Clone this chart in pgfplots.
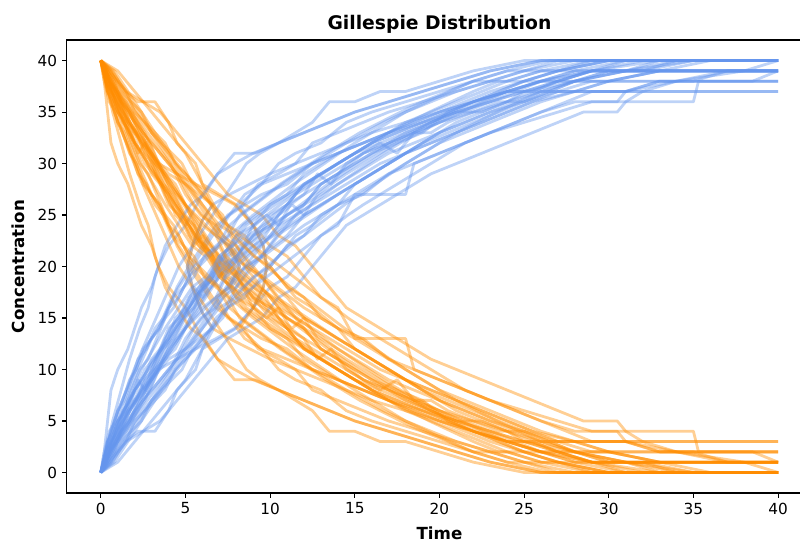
\documentclass[border=0pt]{standalone}
\usepackage{pgfplots}
\usepackage{pgfplotstable}
\pgfplotsset{compat=1.18}
\usepackage{fontspec}
\setmainfont{DejaVu Sans}
\definecolor{cblue}{RGB}{100,149,237}
\definecolor{dorange}{RGB}{255,140,0}
\pgfplotsset{
 ob/.style={color=dorange, draw opacity=0.42, line width=2pt, line join=round, no markers},
 bl/.style={color=cblue, draw opacity=0.42, line width=2pt, line join=round, no markers},
}
% each trajectory: t, orange (a), blue (b)
\pgfplotstableread{
t a b
0 40 0
0.2 38 2
0.4 35 5
0.6 32 8
1.0 30 10
1.6 28 12
2.0 26 14
2.4 24 16
3.0 22 18
3.4 20 20
4.0 18 22
5.0 16 24
6.0 13 27
6.9 11 29
7.9 9 31
9.1 9 31
10.5 8 32
12 7 33
13.5 6 34
15 5 35
17 4 36
19 3 37
21 2 38
23 1 39
26 0 40
40 0 40
}\trA
\pgfplotstableread{
t a b
0 40 0
0.5 39 1
1.4 37 3
2.2 36 4
3.2 36 4
4.0 34 6
4.5 32 8
5.6 30 10
6.0 28 12
7.0 27 13
8.0 26 14
9.0 24 16
10.0 22 18
11.0 21 19
12.0 19 21
13.0 17 23
14.0 16 24
15.0 13 27
18.0 13 27
18.5 10 30
20 9 31
21.5 8 32
23 7 33
24.5 6 34
26 5 35
28 4 36
30.5 4 36
31 3 37
33 2 38
40 2 38
}\trB
\pgfplotstableread{
t a b
0 40 0
0.8 38 2
1.6 36 4
2.5 34 6
3.5 32 8
4.5 30 10
5.5 28 12
6.5 26 14
7.5 24 16
8.5 23 17
9.5 21 19
10.5 19 21
11.5 17 23
12.5 16 24
14 14 26
15.5 13 27
17 11 29
18.5 10 30
20 9 31
21.5 8 32
23 7 33
25 6 34
27 5 35
29 4 36
35 4 36
35.3 2 38
38.5 2 38
40 1 39
}\trC
\pgfplotstableread{
t a b
0 40 0
0.4 39 1
1 37 3
2 34 6
3 31 9
4 28 12
5 25 15
6 23 17
7 21 19
8 19 21
9 17 23
10 16 24
11 14 26
12 13 27
13 12 28
14 11 29
15.5 9 31
17 8 32
18.5 7 33
20 6 34
22 5 35
24 4 36
26 3 37
28 2 38
31 1 39
34 0 40
40 0 40
}\trD
\pgfplotstableread{
t a b
0 40 0
0.3 38 2
0.8 36 4
1.5 33 7
2.2 30 10
3 27 13
3.8 25 15
4.5 22 18
5.2 20 20
6 18 22
6.8 16 24
7.6 15 25
8.5 13 27
9.5 12 28
10.5 10 30
11.5 9 31
13 8 32
14.5 6 34
16 5 35
18 4 36
20 3 37
22 2 38
24 1 39
27 1 39
30 0 40
40 0 40
}\trE
\pgfplotstableread{
t a b
0 40 0
0.6 38 2
1.2 36 4
2 33 7
2.8 31 9
3.6 29 11
4.4 26 14
5.2 24 16
6 22 18
6.8 21 19
7.6 19 21
8.5 18 22
9.3 17 23
10.2 15 25
11 14 26
12 12 28
13 11 29
14 10 30
15 9 31
16.5 8 32
18 7 33
19.5 6 34
21 5 35
23 4 36
25 3 37
27 2 38
30 2 38
33 1 39
40 1 39
}\trF
\pgfplotstableread{
t a b
0 40 0
0.5 38 2
1.2 36 4
2 34 6
3 31 9
4 29 11
5 28 12
5.8 27 13
6.6 26 14
6.0 24.5 15.5
5.5 22.5 17.5
5.1 20 20
5.5 17.5 22.5
6.0 15.5 24.5
6.6 14 26
7.6 13 27
8.8 12 28
10 11 29
11.5 10 30
13 9 31
14.5 8 32
16 7 33
18 6 34
20 5 35
22 4 36
24 3 37
26 2 38
29 1 39
32 0 40
40 0 40
}\trG
\pgfplotstableread{
t a b
0 40 0
0.6 38 2
1.4 35 5
2.4 32 8
3.4 30 10
4.5 29 11
5.6 28 12
6.8 27 13
7.9 26 14
9.0 24 16
9.6 22 18
9.8 20 20
9.6 18 22
9.0 16 24
8.2 14 26
9.5 12 28
11 11 29
12.5 10 30
14 9 31
15.5 8 32
17 7 33
19 6 34
21 5 35
23 4 36
25 3 37
28 2 38
31 1 39
36 1 39
40 1 39
}\trH
\pgfplotstableread{
t a b
0 40 0
1 39 1
2 37 3
3 35 5
4 33 7
5 31 9
6 28 12
7 25 15
8 22 18
9 20 20
10 18 22
11 16 24
12 14 26
13 12 28
14 11 29
15 10 30
16 9 31
17.5 8 32
19 7 33
20.5 5 35
22 4 36
24 3 37
26 3 37
28 2 38
30 1 39
33 1 39
36 0 40
40 0 40
}\trI
\pgfplotstableread{
t a b
0 40 0
0.3 39 1
0.9 37 3
1.7 34 6
2.6 32 8
3.4 30 10
4.2 28 12
5 26 14
5.8 24 16
6.6 22 18
7.4 20 20
8.2 19 21
9 18 22
10 17 23
11 15 25
12 14 26
13 13 27
14 12 28
15 11 29
16 10 30
17 9 31
18.5 8 32
20 7 33
21.5 6 34
23 5 35
25 4 36
27 3 37
29 2 38
40 2 38
}\trJ
\pgfplotstableread{
t a b
0 40 0
0.4 37 3
1 34 6
1.8 31 9
2.6 28 12
3.4 26 14
4.2 23 17
5 21 19
5.8 19 21
6.6 17 23
7.5 15 25
8.4 14 26
9.3 12 28
10.5 11 29
11.5 10 30
12.5 8 32
14 7 33
15.5 6 34
17 5 35
19 4 36
21 3 37
23 2 38
25 1 39
28 0 40
40 0 40
}\trK
\pgfplotstableread{
t a b
0 40 0
0.5 38 2
1.3 36 4
2.1 34 6
2.9 32 8
3.7 29 11
4.5 27 13
5.3 25 15
6.1 23 17
6.9 21 19
7.7 20 20
8.5 19 21
9.3 18 22
10.2 17 23
11.1 16 24
12 15 25
13 14 26
14 13 27
15 12 28
16 11 29
17 10 30
18 9 31
19.5 8 32
21 7 33
22.5 6 34
24 5 35
25.5 4 36
27 3 37
30 3 37
40 3 37
}\trL
\pgfplotstableread{
t a b
0 40 0
0.4 38 2
1.1 35 5
2 32 8
2.8 30 10
3.6 28 12
4.4 26 14
5.2 24 16
6 22 18
6.8 20 20
7.6 18 22
8.4 16 24
9.2 15 25
10 14 26
11 13 27
12 12 28
13 11 29
14 10 30
15 9 31
16 8 32
17.5 7 33
19 6 34
20.5 5 35
22 4 36
24 3 37
26 2 38
28 1 39
31 0 40
40 0 40
}\trM
\pgfplotstableread{
t a b
0 40 0
0.3 38 2
0.8 35 5
1.5 32 8
2.2 29 11
3 26 14
3.8 23 17
4.6 20 20
5.4 18 22
6.2 16 24
7 14 26
7.8 12 28
8.6 10 30
9.4 9 31
10.5 8 32
11.5 7 33
12.5 6 34
13.5 4 36
15 4 36
16.5 3 37
18 3 37
20 2 38
22 1 39
25 0 40
40 0 40
}\trN
\pgfplotstableread{
t a b
0 40 0
0.6 39 1
1.5 37 3
2.5 36 4
3.5 35 5
4.5 33 7
5.5 31 9
6.5 29 11
7.5 27 13
8.5 26 14
9.5 25 15
10.5 23 17
11.5 22 18
12.5 20 20
13.5 18 22
14.5 16 24
15.5 15 25
16.5 14 26
17.5 13 27
18.5 12 28
19.5 11 29
21 10 30
22.5 9 31
24 8 32
25.5 7 33
27 6 34
28.5 5 35
30.5 5 35
31 4 36
32 3 37
34 2 38
37 1 39
40 1 39
}\trO
\pgfplotstableread{
t a b
0 40 0
0.5 38 2
1.2 36 4
2 34 6
3 32 8
4 30 10
5 28 12
6 26 14
7 24 16
8 23 17
9 21 19
10 20 20
11 18 22
12 17 23
13 15 25
14 14 26
15 13 27
16 12 28
17 11 29
18 10 30
19 9 31
20 8 32
21.5 7 33
23 6 34
24.5 5 35
26 4 36
28 3 37
30 2 38
33 1 39
40 1 39
}\trP
\pgfplotstableread{
t a b
0 40 0
0.3 38 2
0.9 36 4
1.6 33 7
2.4 31 9
3.2 29 11
4 27 13
4.8 25 15
5.6 23 17
6.4 21 19
7.2 19 21
8 17 23
9 16 24
10 14 26
11 13 27
12 11 29
13 10 30
14 9 31
15.5 8 32
17 7 33
18.5 6 34
20 5 35
21.5 4 36
23 3 37
25 2 38
27 1 39
29 0 40
40 0 40
}\trQ
\pgfplotstableread{
t a b
0 40 0
0.4 39 1
1 37 3
1.8 35 5
2.6 33 7
3.4 30 10
4.2 28 12
5 26 14
5.8 23 17
6.6 21 19
7.4 19 21
8.2 18 22
9 17 23
10 16 24
11 15 25
12 14 26
13 12 28
14 11 29
15 10 30
16 9 31
17 8 32
18 7 33
19.5 6 34
21 5 35
22.5 4 36
24 3 37
26 2 38
40 2 38
}\trR
\pgfplotstableread{
t a b
0 40 0
0.5 38 2
1 36 4
1.6 34 6
2.3 32 8
3 30 10
3.8 27 13
4.6 25 15
5.4 23 17
6.2 22 18
7 20 20
8 19 21
9 17 23
10 15 25
11 14 26
12 12 28
13 11 29
14 10 30
15 9 31
16 8 32
17.5 7 33
19 6 34
20.5 5 35
22 4 36
23.5 3 37
25 2 38
27 1 39
30 0 40
40 0 40
}\trS
\pgfplotstableread{
t a b
0 40 0
0.3 38 2
0.7 35 5
1.2 32 8
1.7 29 11
2.3 26 14
2.8 24 16
3.2 21 19
3.8 18 22
4.5 16 24
5.3 14 26
6.1 13 27
6.9 11 29
7.9 10 30
9 9 31
10.5 8 32
12 7 33
13.5 6 34
15 5 35
17 4 36
19 3 37
21 2 38
23 1 39
26 0 40
40 0 40
}\trT
\pgfplotstableread{
t a b
0 40 0
0.7 39 1
1.4 37 3
2.2 35 5
3 33 7
3.8 31 9
4.6 29 11
5.4 27 13
6.2 25 15
7 23 17
7.8 21 19
8.6 20 20
9.4 19 21
10.2 18 22
11 17 23
12 15 25
13 14 26
14 13 27
15 12 28
16 11 29
17 10 30
18 9 31
19 8 32
20.5 7 33
22 6 34
23.5 5 35
25 4 36
26.5 3 37
28 2 38
31 1 39
35 0 40
40 0 40
}\trU
\pgfplotstableread{
t a b
0 40 0
0.5 38 2
1.3 35 5
2.1 33 7
2.9 31 9
3.7 28 12
4.5 26 14
5.3 24 16
6.1 22 18
6.9 20 20
7.8 18 22
8.7 17 23
9.6 16 24
10.5 15 25
11.5 13 27
12.5 12 28
13.5 11 29
14.5 10 30
15.5 9 31
17 8 32
18.5 7 33
20 6 34
21.5 5 35
23 4 36
24.5 3 37
26 2 38
28 1 39
40 1 39
}\trV
\pgfplotstableread{
t a b
0 40 0
0.4 38 2
1.2 35 5
2 33 7
3 31 9
4 28 12
5 26 14
6 24 16
6.8 23 17
7.6 22 18
8.2 20 20
7.6 18 22
6.8 17 23
7.6 15 25
8.5 14 26
9.5 13 27
11 12 28
12.5 10 30
14 9 31
15.5 8 32
17 7 33
18.5 6 34
20 5 35
22 4 36
24 3 37
26 2 38
29 1 39
33 0 40
40 0 40
}\trW
\pgfplotstableread{
t a b
0 40 0
0.6 38 2
1.4 36 4
2.3 34 6
3.2 32 8
4.1 30 10
5 27 13
5.9 25 15
6.8 24 16
7.7 22 18
8.6 20 20
9.5 19 21
10.4 17 23
11.3 16 24
12.2 15 25
13.1 14 26
14 13 27
15 12 28
16 11 29
17 10 30
18 9 31
19 8 32
20 7 33
21 6 34
22.5 5 35
24 4 36
25.5 3 37
27 2 38
29 1 39
32 1 39
35 0 40
40 0 40
}\trX
\pgfplotstableread{
t a b
0 40 0
0.4 37 3
1 35 5
1.7 33 7
2.4 30 10
3.1 28 12
3.8 26 14
4.6 24 16
5.4 22 18
6.2 21 19
7 19 21
7.8 18 22
8.6 16 24
9.4 15 25
10.3 14 26
11.2 13 27
12.1 12 28
13 11 29
14 10 30
15 9 31
16 8 32
17 7 33
18 6 34
19.5 5 35
21 4 36
22.5 3 37
24 2 38
26 1 39
30 1 39
40 1 39
}\trY
\pgfplotstableread{
t a b
0 40 0
0.8 39 1
1.6 37 3
2.4 35 5
3.2 33 7
4 31 9
4.8 29 11
5.6 27 13
6.4 25 15
7.2 23 17
8 22 18
8.8 20 20
9.6 19 21
10.4 18 22
11.2 17 23
12 16 24
13 15 25
14 14 26
15 12 28
16 11 29
17 10 30
18 9 31
19 8 32
20 7 33
21.5 6 34
23 5 35
24.5 4 36
26 3 37
40 3 37
}\trZ
\pgfplotstableread{
t a b
0 40 0
0.5 38 2
1.5 36 4
2.5 33 7
3.5 31 9
4.5 29 11
5.5 26 14
6.5 24 16
7.5 22 18
8.5 20 20
9.5 18 22
10.5 16 24
11.5 15 25
12.5 14 26
13.5 13 27
14.5 12 28
15.5 11 29
16.5 10 30
18 9 31
19.5 8 32
21 7 33
22.5 6 34
24 5 35
25.5 4 36
28 3 37
31 3 37
34 2 38
38 1 39
40 0 40
}\trAA
\pgfplotstableread{
t a b
0 40 0
0.3 39 1
0.6 37 3
1.0 36 4
1.3 34 6
1.8 33 7
2.2 31 9
2.6 32 8
3.0 30 10
3.5 28 12
4.0 27 13
4.4 25 15
5.0 24 16
5.5 22 18
6.0 23 17
6.6 21 19
7.2 19 21
7.8 20 20
8.4 18 22
9.0 16 24
9.8 15 25
10.5 16 24
11.2 14 26
12 13 27
12.8 11 29
13.6 12 28
14.5 10 30
15.5 9 31
16.5 8 32
17.5 9 31
18.5 7 33
19.5 6 34
21 5 35
22.5 5 35
24 4 36
25 3 37
27 2 38
29 1 39
31 0 40
40 0 40
}\trAB
\pgfplotstableread{
t a b
0 40 0
0.2 39 1
0.5 38 2
0.9 36 4
1.3 35 5
1.7 33 7
2.1 32 8
2.6 30 10
3.1 29 11
3.6 28 12
4.1 26 14
4.6 25 15
5.2 24 16
5.8 22 18
6.4 21 19
7.0 22 18
7.6 20 20
8.3 19 21
9.0 18 22
9.7 17 23
10.5 15 25
11.3 14 26
12.0 15 25
12.8 13 27
13.6 12 28
14.5 11 29
15.5 10 30
16.5 9 31
17.5 8 32
18.5 7 33
19.5 7 33
20.5 6 34
22 5 35
23.5 4 36
25 4 36
26.5 3 37
28 2 38
30 1 39
32 1 39
34 0 40
40 0 40
}\trAC
\pgfplotstableread{
t a b
0 40 0
0.3 38 2
0.6 37 3
1.0 35 5
1.4 34 6
1.8 32 8
2.3 30 10
2.8 29 11
3.3 27 13
3.8 25 15
4.3 24 16
4.9 22 18
5.5 21 19
6.1 19 21
6.8 18 22
7.5 17 23
8.2 15 25
9.0 14 26
9.8 13 27
10.6 12 28
11.5 11 29
12.4 10 30
13.3 9 31
14.3 8 32
15.3 7 33
16.5 6 34
17.7 5 35
19 4 36
20.5 3 37
22 2 38
24 2 38
26 1 39
29 0 40
40 0 40
}\trAD
\pgfplotstableread{
t a b
0 40 0
0.5 39 1
1.0 38 2
1.5 37 3
2.0 35 5
2.6 34 6
3.2 33 7
3.8 32 8
4.4 30 10
5.0 29 11
5.6 28 12
6.2 27 13
6.8 25 15
7.5 24 16
8.2 23 17
9.0 22 18
9.8 21 19
10.6 20 20
11.4 19 21
12.2 18 22
13.0 17 23
13.8 16 24
14.6 15 25
15.5 14 26
16.5 13 27
17.5 12 28
18.5 11 29
19.5 10 30
20.5 9 31
21.5 8 32
23 7 33
24.5 6 34
26 5 35
27.5 4 36
29 3 37
31 3 37
33 2 38
35 2 38
37 1 39
40 1 39
}\trAE
\pgfplotstableread{
t a b
0 40 0
0.2 38 2
0.5 36 4
0.9 35 5
1.3 33 7
1.7 31 9
2.1 30 10
2.5 28 12
3.0 27 13
3.5 26 14
4.0 24 16
4.6 23 17
5.2 21 19
5.8 20 20
6.4 19 21
7.0 18 22
7.6 17 23
8.3 16 24
9.0 15 25
9.8 14 26
10.6 13 27
11.4 12 28
12.3 11 29
13.2 10 30
14.1 9 31
15 8 32
16 7 33
17 6 34
18 5 35
19.5 4 36
21 3 37
23 2 38
25 1 39
27 0 40
40 0 40
}\trAF
\pgfplotstableread{
t a b
0 40 0
0.4 39 1
0.8 38 2
1.2 36 4
1.7 35 5
2.2 33 7
2.7 32 8
3.2 30 10
3.8 29 11
4.4 28 12
5.0 26 14
5.6 25 15
6.2 24 16
6.8 23 17
7.4 21 19
8.0 20 20
8.7 19 21
9.4 18 22
10.1 17 23
10.8 16 24
11.6 15 25
12.4 14 26
13.2 13 27
14 12 28
14.9 11 29
15.8 10 30
16.7 9 31
17.7 8 32
18.8 7 33
20 6 34
21.3 5 35
22.6 4 36
24 3 37
25.5 3 37
27 2 38
29 1 39
31 1 39
33 0 40
40 0 40
}\trAG
\pgfplotstableread{
t a b
0 40 0
0.3 39 1
0.7 37 3
1.1 36 4
1.6 34 6
2.1 33 7
2.6 31 9
3.1 30 10
3.7 28 12
4.3 27 13
4.9 25 15
5.5 24 16
6.1 22 18
6.7 21 19
7.3 20 20
8.0 19 21
8.7 18 22
9.4 17 23
10.2 16 24
11.0 15 25
11.8 14 26
12.6 13 27
13.4 12 28
14.3 11 29
15.2 10 30
16.2 9 31
17.2 8 32
18.3 7 33
19.5 6 34
20.7 5 35
22 4 36
23.5 3 37
25 2 38
27 2 38
29 1 39
32 1 39
40 1 39
}\trAH
\pgfplotstableread{
t a b
0 40 0
0.2 39 1
0.4 37 3
0.7 36 4
1.0 34 6
1.4 33 7
1.8 31 9
2.2 29 11
2.7 28 12
3.2 26 14
3.7 25 15
4.3 23 17
4.9 22 18
5.5 20 20
6.2 19 21
6.9 18 22
7.6 16 24
8.3 15 25
9.1 14 26
9.9 13 27
10.7 12 28
11.6 11 29
12.5 10 30
13.5 9 31
14.5 8 32
15.6 7 33
16.7 6 34
18 5 35
19.3 4 36
20.6 3 37
22 2 38
24 1 39
26.5 0 40
40 0 40
}\trAI
\pgfplotstableread{
t a b
0 40 0
0.6 39 1
1.2 37 3
1.8 36 4
2.4 35 5
3.0 33 7
3.6 32 8
4.2 31 9
4.8 30 10
5.4 28 12
6.0 27 13
6.6 26 14
7.2 25 15
7.8 23 17
8.4 22 18
9.1 21 19
9.8 20 20
10.5 19 21
11.2 18 22
12 17 23
12.8 16 24
13.6 15 25
14.4 14 26
15.3 13 27
16.2 12 28
17.1 11 29
18 10 30
19 9 31
20 8 32
21 7 33
22.2 6 34
23.4 5 35
24.7 4 36
26 3 37
28 3 37
30 2 38
33 1 39
40 1 39
}\trAJ
\pgfplotstableread{
t a b
0 40 0
0.3 39 1
0.6 37 3
1.0 35 5
1.5 34 6
2.0 32 8
2.5 31 9
3.0 29 11
3.5 28 12
4.0 26 14
4.6 25 15
5.2 23 17
5.8 22 18
6.4 21 19
7.0 19 21
7.7 18 22
8.4 17 23
9.1 16 24
9.8 15 25
10.6 14 26
11.4 13 27
12.2 12 28
13.1 11 29
14 10 30
15 9 31
16 8 32
17 7 33
18.2 6 34
19.4 5 35
20.7 4 36
22 3 37
23.5 2 38
25 2 38
27 1 39
30 0 40
40 0 40
}\trAK
\begin{document}
\begin{tikzpicture}
\begin{axis}[
  scale only axis, width=536.4pt, height=326.2pt,
  xmin=-2, xmax=42, ymin=-2, ymax=42,
  xtick={0,5,...,40}, ytick={0,5,...,40},
  tick pos=left, tick align=outside,
  major tick length=3.5pt,
  every tick/.style={black, line width=0.8pt},
  axis line style={line width=0.8pt},
  /pgf/number format/assume math mode=true,
  ticklabel style={font=\fontsize{11}{13}\selectfont},
  title={Gillespie Distribution},
  every axis title/.style={font=\bfseries\fontsize{13.5}{16}\selectfont, at={(0.5,1.0221)}, anchor=base},
  xlabel={Time},
  every axis x label/.style={font=\bfseries\fontsize{12}{14}\selectfont, at={(0.5,-0.1015)}, anchor=base, inner sep=1pt},
  ylabel={Concentration},
  every axis y label/.style={font=\bfseries\fontsize{12}{14}\selectfont, at={(-0.0563,0.5)}, rotate=90, anchor=base},
  clip=false,
]
\coordinate (O) at (rel axis cs:0,0);
\coordinate (T) at (rel axis cs:0,1);
\addplot[ob] table[x=t,y=a]{\trA}; \addplot[bl] table[x=t,y=b]{\trA};
\addplot[bl] table[x=t,y=b]{\trB}; \addplot[ob] table[x=t,y=a]{\trB};
\addplot[ob] table[x=t,y=a]{\trC}; \addplot[bl] table[x=t,y=b]{\trC};
\addplot[bl] table[x=t,y=b]{\trD}; \addplot[ob] table[x=t,y=a]{\trD};
\addplot[ob] table[x=t,y=a]{\trE}; \addplot[bl] table[x=t,y=b]{\trE};
\addplot[bl] table[x=t,y=b]{\trF}; \addplot[ob] table[x=t,y=a]{\trF};
\addplot[ob] table[x=t,y=a]{\trG}; \addplot[bl] table[x=t,y=b]{\trG};
\addplot[bl] table[x=t,y=b]{\trH}; \addplot[ob] table[x=t,y=a]{\trH};
\addplot[ob] table[x=t,y=a]{\trI}; \addplot[bl] table[x=t,y=b]{\trI};
\addplot[bl] table[x=t,y=b]{\trJ}; \addplot[ob] table[x=t,y=a]{\trJ};
\addplot[ob] table[x=t,y=a]{\trK}; \addplot[bl] table[x=t,y=b]{\trK};
\addplot[bl] table[x=t,y=b]{\trL}; \addplot[ob] table[x=t,y=a]{\trL};
\addplot[ob] table[x=t,y=a]{\trM}; \addplot[bl] table[x=t,y=b]{\trM};
\addplot[bl] table[x=t,y=b]{\trN}; \addplot[ob] table[x=t,y=a]{\trN};
\addplot[ob] table[x=t,y=a]{\trO}; \addplot[bl] table[x=t,y=b]{\trO};
\addplot[bl] table[x=t,y=b]{\trP}; \addplot[ob] table[x=t,y=a]{\trP};
\addplot[ob] table[x=t,y=a]{\trQ}; \addplot[bl] table[x=t,y=b]{\trQ};
\addplot[bl] table[x=t,y=b]{\trR}; \addplot[ob] table[x=t,y=a]{\trR};
\addplot[ob] table[x=t,y=a]{\trS}; \addplot[bl] table[x=t,y=b]{\trS};
\addplot[bl] table[x=t,y=b]{\trT}; \addplot[ob] table[x=t,y=a]{\trT};
\addplot[ob] table[x=t,y=a]{\trU}; \addplot[bl] table[x=t,y=b]{\trU};
\addplot[bl] table[x=t,y=b]{\trV}; \addplot[ob] table[x=t,y=a]{\trV};
\addplot[ob] table[x=t,y=a]{\trW}; \addplot[bl] table[x=t,y=b]{\trW};
\addplot[bl] table[x=t,y=b]{\trX}; \addplot[ob] table[x=t,y=a]{\trX};
\addplot[ob] table[x=t,y=a]{\trY}; \addplot[bl] table[x=t,y=b]{\trY};
\addplot[bl] table[x=t,y=b]{\trZ}; \addplot[ob] table[x=t,y=a]{\trZ};
\addplot[ob] table[x=t,y=a]{\trAA}; \addplot[bl] table[x=t,y=b]{\trAA};
\addplot[bl] table[x=t,y=b]{\trAB}; \addplot[ob] table[x=t,y=a]{\trAB};
\addplot[ob] table[x=t,y=a]{\trAC}; \addplot[bl] table[x=t,y=b]{\trAC};
\addplot[bl] table[x=t,y=b]{\trAD}; \addplot[ob] table[x=t,y=a]{\trAD};
\addplot[ob] table[x=t,y=a]{\trAE}; \addplot[bl] table[x=t,y=b]{\trAE};
\addplot[bl] table[x=t,y=b]{\trAF}; \addplot[ob] table[x=t,y=a]{\trAF};
\addplot[ob] table[x=t,y=a]{\trAG}; \addplot[bl] table[x=t,y=b]{\trAG};
\addplot[bl] table[x=t,y=b]{\trAH}; \addplot[ob] table[x=t,y=a]{\trAH};
\addplot[ob] table[x=t,y=a]{\trAI}; \addplot[bl] table[x=t,y=b]{\trAI};
\addplot[bl] table[x=t,y=b]{\trAJ}; \addplot[ob] table[x=t,y=a]{\trAJ};
\addplot[ob] table[x=t,y=a]{\trAK}; \addplot[bl] table[x=t,y=b]{\trAK};
\end{axis}
\pgfresetboundingbox
\path[use as bounding box] ([shift={(-48.2pt,-35.3pt)}]O) rectangle ([shift={(527.8pt,28.8pt)}]T);
\end{tikzpicture}
\end{document}
